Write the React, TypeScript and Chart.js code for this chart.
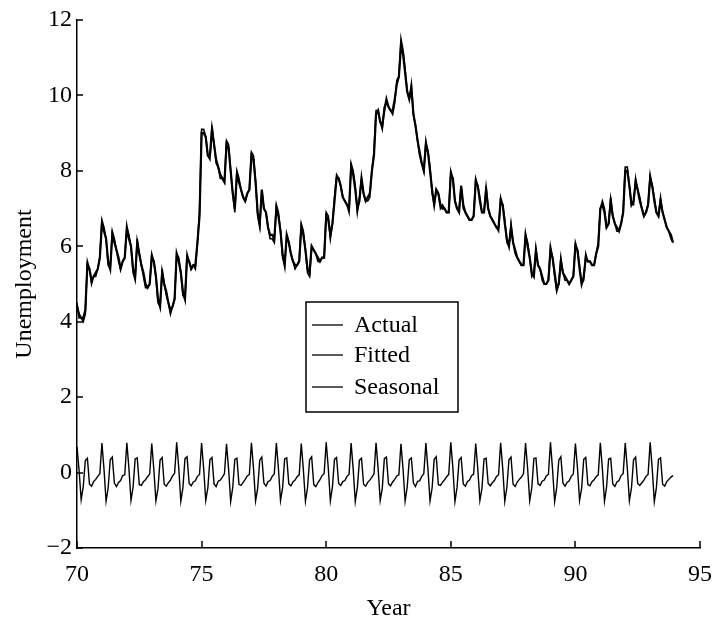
import React, { useEffect, useRef } from "react";
import { Chart, registerables } from "chart.js";

Chart.register(...registerables);

// ---------------- data ----------------
const START_YEAR = 70; // first observation: January 1970, monthly data

const actual = [
  4.5, 4.1, 4.1, 4.0, 4.2, 5.6, 5.4, 5.0, 5.2, 5.2, 5.4, 5.7,
  6.7, 6.5, 6.2, 5.5, 5.4, 6.4, 6.2, 5.9, 5.6, 5.4, 5.6, 5.7,
  6.5, 6.3, 6.0, 5.3, 5.1, 6.2, 5.8, 5.5, 5.2, 4.9, 4.9, 5.0,
  5.8, 5.6, 5.2, 4.5, 4.4, 5.4, 5.0, 4.7, 4.5, 4.2, 4.4, 4.6,
  5.8, 5.7, 5.3, 4.7, 4.6, 5.8, 5.6, 5.4, 5.5, 5.4, 6.1, 6.9,
  9.1, 9.1, 8.9, 8.4, 8.3, 9.2, 8.7, 8.2, 8.1, 7.8, 7.8, 7.7,
  8.8, 8.7, 8.0, 7.4, 6.9, 8.0, 7.8, 7.5, 7.3, 7.2, 7.4, 7.5,
  8.5, 8.4, 7.7, 6.8, 6.5, 7.5, 7.0, 6.9, 6.5, 6.2, 6.2, 6.1,
  7.1, 6.9, 6.4, 5.7, 5.5, 6.3, 6.1, 5.8, 5.6, 5.4, 5.5, 5.6,
  6.6, 6.4, 5.9, 5.3, 5.2, 6.0, 5.9, 5.8, 5.6, 5.6, 5.7, 5.7,
  6.9, 6.8, 6.2, 6.6, 7.3, 7.9, 7.8, 7.6, 7.3, 7.2, 7.1, 6.9,
  8.2, 8.0, 7.6, 6.9, 7.3, 7.8, 7.4, 7.2, 7.2, 7.3, 8.0, 8.5,
  9.6, 9.6, 9.3, 9.1, 9.7, 9.8, 9.7, 9.6, 9.5, 9.8, 10.4, 10.5,
  11.5, 11.2, 10.7, 10.1, 9.9, 10.3, 9.5, 9.2, 8.8, 8.4, 8.2, 8.0,
  8.8, 8.5, 8.1, 7.4, 7.1, 7.5, 7.4, 7.0, 7.1, 7.0, 6.9, 6.9,
  8.0, 7.8, 7.2, 7.0, 7.0, 7.6, 7.0, 6.9, 6.8, 6.7, 6.7, 6.8,
  7.8, 7.6, 7.3, 6.9, 6.9, 7.6, 7.0, 6.8, 6.7, 6.6, 6.5, 6.4,
  7.3, 7.1, 6.7, 6.1, 6.0, 6.6, 6.1, 5.8, 5.7, 5.6, 5.5, 5.5,
  6.3, 6.1, 5.7, 5.2, 5.3, 5.9, 5.5, 5.4, 5.1, 5.0, 5.0, 5.1,
  6.0, 5.7, 5.2, 4.8, 5.0, 5.7, 5.3, 5.1, 5.1, 5.0, 5.1, 5.2,
  6.1, 5.9, 5.5, 5.0, 5.1, 5.8, 5.6, 5.6, 5.5, 5.5, 5.8, 6.1,
  7.0, 7.2, 7.0, 6.5, 6.6, 7.3, 6.8, 6.6, 6.4, 6.4, 6.6, 6.9,
  8.1, 8.1, 7.6, 7.1, 7.1, 7.8, 7.5, 7.3, 7.0, 6.8, 6.9, 7.1,
  7.9, 7.6, 7.3, 6.9, 6.8, 7.3, 6.9, 6.7, 6.5, 6.4, 6.2, 6.1,
];

const fitted = [
  4.4, 4.2, 4.1, 4.1, 4.3, 5.5, 5.4, 5.1, 5.2, 5.3, 5.4, 5.7,
  6.6, 6.4, 6.2, 5.6, 5.4, 6.3, 6.1, 5.9, 5.7, 5.4, 5.6, 5.7,
  6.5, 6.2, 6.0, 5.4, 5.2, 6.1, 5.8, 5.5, 5.3, 5.0, 4.9, 5.0,
  5.7, 5.6, 5.2, 4.6, 4.4, 5.3, 5.0, 4.8, 4.5, 4.3, 4.4, 4.6,
  5.8, 5.6, 5.3, 4.8, 4.6, 5.7, 5.6, 5.4, 5.5, 5.5, 6.1, 6.8,
  9.0, 9.0, 8.9, 8.4, 8.4, 9.1, 8.7, 8.3, 8.1, 7.9, 7.8, 7.7,
  8.7, 8.6, 8.0, 7.4, 7.0, 7.9, 7.7, 7.5, 7.3, 7.2, 7.4, 7.5,
  8.4, 8.3, 7.7, 6.9, 6.6, 7.5, 7.0, 6.9, 6.5, 6.3, 6.3, 6.2,
  7.0, 6.8, 6.4, 5.8, 5.5, 6.3, 6.1, 5.8, 5.6, 5.5, 5.5, 5.6,
  6.5, 6.3, 5.9, 5.4, 5.3, 6.0, 5.9, 5.8, 5.7, 5.6, 5.7, 5.7,
  6.8, 6.7, 6.3, 6.6, 7.2, 7.8, 7.8, 7.6, 7.3, 7.2, 7.1, 7.0,
  8.1, 7.9, 7.5, 7.0, 7.2, 7.8, 7.4, 7.2, 7.3, 7.4, 8.0, 8.4,
  9.5, 9.6, 9.3, 9.2, 9.6, 9.9, 9.7, 9.6, 9.6, 9.9, 10.3, 10.5,
  11.3, 11.1, 10.6, 10.1, 9.9, 10.2, 9.5, 9.2, 8.8, 8.5, 8.2, 8.0,
  8.7, 8.5, 8.0, 7.5, 7.1, 7.5, 7.4, 7.1, 7.0, 7.0, 6.9, 6.9,
  7.9, 7.8, 7.2, 7.0, 6.9, 7.6, 7.1, 6.9, 6.8, 6.7, 6.7, 6.8,
  7.7, 7.6, 7.2, 6.9, 6.9, 7.5, 7.0, 6.8, 6.7, 6.6, 6.5, 6.5,
  7.2, 7.1, 6.6, 6.2, 6.0, 6.5, 6.1, 5.9, 5.7, 5.6, 5.5, 5.5,
  6.3, 6.0, 5.7, 5.3, 5.2, 5.9, 5.5, 5.4, 5.2, 5.0, 5.0, 5.1,
  5.9, 5.7, 5.3, 4.9, 5.0, 5.6, 5.3, 5.2, 5.1, 5.0, 5.1, 5.2,
  6.0, 5.9, 5.4, 5.0, 5.2, 5.7, 5.6, 5.6, 5.5, 5.5, 5.8, 6.0,
  7.0, 7.1, 6.9, 6.5, 6.6, 7.2, 6.8, 6.6, 6.5, 6.4, 6.6, 6.9,
  8.0, 8.0, 7.6, 7.1, 7.2, 7.7, 7.5, 7.2, 7.0, 6.8, 6.9, 7.1,
  7.8, 7.6, 7.2, 6.9, 6.8, 7.2, 6.9, 6.7, 6.5, 6.4, 6.3, 6.1,
];

const seasonal = [
  0.68, 0.06, -0.72, -0.38, 0.32, 0.38, -0.30, -0.36, -0.24, -0.18, -0.10, -0.03,
  0.78, 0.09, -0.76, -0.41, 0.34, 0.41, -0.28, -0.37, -0.26, -0.21, -0.08, -0.06,
  0.79, 0.11, -0.74, -0.39, 0.36, 0.39, -0.32, -0.34, -0.24, -0.19, -0.11, -0.04,
  0.77, 0.08, -0.75, -0.42, 0.33, 0.40, -0.31, -0.36, -0.27, -0.20, -0.09, -0.02,
  0.80, 0.12, -0.76, -0.40, 0.37, 0.42, -0.29, -0.35, -0.25, -0.22, -0.10, -0.05,
  0.78, 0.10, -0.74, -0.41, 0.34, 0.40, -0.30, -0.37, -0.23, -0.20, -0.12, -0.03,
  0.76, 0.09, -0.77, -0.39, 0.35, 0.38, -0.31, -0.34, -0.26, -0.18, -0.09, -0.05,
  0.79, 0.11, -0.75, -0.42, 0.33, 0.41, -0.28, -0.36, -0.24, -0.21, -0.10, -0.04,
  0.78, 0.10, -0.74, -0.40, 0.36, 0.39, -0.30, -0.35, -0.25, -0.20, -0.11, -0.06,
  0.77, 0.08, -0.76, -0.41, 0.34, 0.42, -0.32, -0.37, -0.27, -0.19, -0.08, -0.03,
  0.80, 0.12, -0.75, -0.38, 0.35, 0.40, -0.29, -0.34, -0.24, -0.21, -0.10, -0.05,
  0.78, 0.09, -0.77, -0.40, 0.33, 0.38, -0.31, -0.36, -0.26, -0.20, -0.12, -0.04,
  0.79, 0.11, -0.74, -0.42, 0.37, 0.41, -0.30, -0.35, -0.25, -0.18, -0.09, -0.06,
  0.76, 0.10, -0.76, -0.39, 0.34, 0.39, -0.28, -0.37, -0.23, -0.22, -0.10, -0.03,
  0.78, 0.08, -0.75, -0.41, 0.35, 0.42, -0.32, -0.34, -0.26, -0.19, -0.11, -0.05,
  0.80, 0.12, -0.77, -0.40, 0.33, 0.40, -0.30, -0.36, -0.24, -0.20, -0.08, -0.04,
  0.77, 0.09, -0.74, -0.42, 0.36, 0.38, -0.29, -0.35, -0.27, -0.21, -0.10, -0.06,
  0.79, 0.11, -0.76, -0.39, 0.34, 0.41, -0.31, -0.37, -0.25, -0.18, -0.12, -0.03,
  0.78, 0.10, -0.75, -0.41, 0.37, 0.39, -0.30, -0.34, -0.23, -0.20, -0.09, -0.05,
  0.80, 0.08, -0.77, -0.40, 0.33, 0.42, -0.28, -0.36, -0.26, -0.22, -0.10, -0.04,
  0.77, 0.12, -0.74, -0.42, 0.35, 0.40, -0.32, -0.35, -0.24, -0.19, -0.11, -0.06,
  0.79, 0.09, -0.76, -0.39, 0.36, 0.38, -0.30, -0.37, -0.25, -0.21, -0.08, -0.03,
  0.78, 0.11, -0.75, -0.41, 0.34, 0.41, -0.29, -0.34, -0.27, -0.20, -0.10, -0.05,
  0.80, 0.10, -0.77, -0.40, 0.35, 0.39, -0.31, -0.36, -0.24, -0.18, -0.12, -0.08,
];

const seriesLabels = ["Actual", "Fitted", "Seasonal"];
const xTickValues = [70, 75, 80, 85, 90, 95];
const yTickValues = [-2, 0, 2, 4, 6, 8, 10, 12];
const xTitle = "Year";
const yTitle = "Unemployment";

// ---------------- helpers ----------------
const FONT = "'Liberation Serif', 'Times New Roman', serif";

const toPoints = (arr: number[]) =>
  arr.map((v, i) => ({ x: START_YEAR + i / 12, y: v }));

const inwardTicks = {
  id: "inwardTicks",
  afterDraw(chart: any) {
    const { ctx, chartArea, scales } = chart;
    ctx.save();
    ctx.strokeStyle = "#000";
    ctx.lineWidth = 1.5;
    ctx.beginPath();
    xTickValues.forEach((t) => {
      const px = Math.round(scales.x.getPixelForValue(t));
      ctx.moveTo(px, chartArea.bottom);
      ctx.lineTo(px, chartArea.bottom - 7);
    });
    yTickValues.forEach((t) => {
      const py = Math.round(scales.y.getPixelForValue(t));
      ctx.moveTo(chartArea.left, py);
      ctx.lineTo(chartArea.left + 6, py);
    });
    ctx.stroke();
    ctx.restore();
  },
};

const boxLegend = {
  id: "boxLegend",
  afterDraw(chart: any) {
    const { ctx, chartArea } = chart;
    const bx = chartArea.left + 229;
    const by = chartArea.top + 282;
    const bw = 152;
    const bh = 110;
    ctx.save();
    ctx.fillStyle = "#fff";
    ctx.fillRect(bx, by, bw, bh);
    ctx.strokeStyle = "#000";
    ctx.lineWidth = 1.5;
    ctx.strokeRect(bx, by, bw, bh);
    ctx.font = `24px ${FONT}`;
    ctx.textBaseline = "middle";
    ctx.textAlign = "left";
    ctx.fillStyle = "#000";
    const rows = [23, 53, 85];
    chart.data.datasets.forEach((ds: any, i: number) => {
      const y = by + rows[i];
      ctx.beginPath();
      ctx.lineWidth = 1.3;
      ctx.moveTo(bx + 6, y);
      ctx.lineTo(bx + 37, y);
      ctx.stroke();
      ctx.fillText(ds.label, bx + 48, y + 1);
    });
    ctx.restore();
  },
};

export default function App() {
  const ref = useRef<HTMLCanvasElement | null>(null);

  useEffect(() => {
    if (!ref.current) return;
    const chart = new Chart(ref.current, {
      type: "line",
      data: {
        datasets: [
          {
            label: seriesLabels[0],
            data: toPoints(actual),
            borderColor: "#000",
            borderWidth: 1.6,
            pointRadius: 0,
            tension: 0,
          },
          {
            label: seriesLabels[1],
            data: toPoints(fitted),
            borderColor: "#000",
            borderWidth: 2.2,
            pointRadius: 0,
            tension: 0,
          },
          {
            label: seriesLabels[2],
            data: toPoints(seasonal),
            borderColor: "#000",
            borderWidth: 1.4,
            pointRadius: 0,
            tension: 0,
          },
        ],
      },
      options: {
        animation: false,
        responsive: false,
        devicePixelRatio: 1,
        layout: { padding: { top: 20, right: 16, left: 0, bottom: 0 } },
        plugins: {
          legend: { display: false },
          tooltip: { enabled: false },
        },
        scales: {
          x: {
            type: "linear",
            min: 70,
            max: 95,
            afterFit: (s: any) => {
              s.height = 79;
            },
            afterBuildTicks: (s: any) => {
              s.ticks = xTickValues.map((v) => ({ value: v }));
            },
            grid: { display: false, drawTicks: false },
            border: { display: true, color: "#000", width: 1.5 },
            ticks: {
              color: "#000",
              padding: 12,
              font: { family: FONT, size: 24 },
              maxRotation: 0,
              autoSkip: false,
            },
            title: {
              display: true,
              text: xTitle,
              color: "#000",
              font: { family: FONT, size: 24 },
              padding: 4,
            },
          },
          y: {
            type: "linear",
            min: -2,
            max: 12,
            afterFit: (s: any) => {
              s.width = 77;
            },
            afterBuildTicks: (s: any) => {
              s.ticks = yTickValues.map((v) => ({ value: v }));
            },
            grid: { display: false, drawTicks: false },
            border: { display: true, color: "#000", width: 1.5 },
            ticks: {
              color: "#000",
              padding: 5,
              font: { family: FONT, size: 24 },
              callback: (v: any) =>
                Number(v) < 0 ? "\u2212" + Math.abs(Number(v)) : String(v),
            },
            title: {
              display: true,
              text: yTitle,
              color: "#000",
              font: { family: FONT, size: 24 },
              padding: 10,
            },
          },
        },
      },
      plugins: [inwardTicks, boxLegend],
    });
    return () => chart.destroy();
  }, []);

  return (
    <div
      style={{
        position: "absolute",
        left: 0,
        top: 0,
        width: 724,
        height: 627,
        background: "#fff",
      }}
    >
      <canvas ref={ref} width={724} height={627} />
    </div>
  );
}
